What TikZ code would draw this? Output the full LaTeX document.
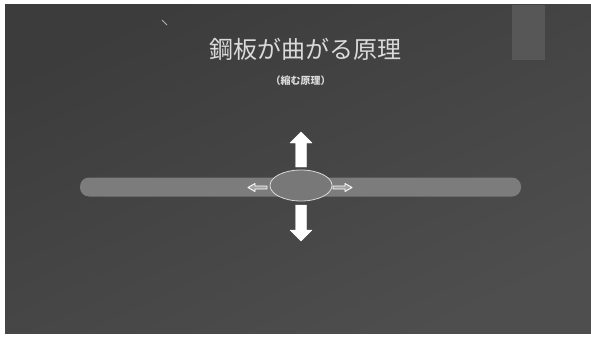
\documentclass[tikz,border=0pt]{standalone}
\usepackage{fontspec}
\newfontfamily\cjk{Noto Sans CJK JP}
\usetikzlibrary{shapes.geometric}
\definecolor{bgdark}{HTML}{3C3C3C}
\definecolor{bglight}{HTML}{4E4E4E}
\definecolor{tabgray}{HTML}{575757}
\definecolor{bargray}{HTML}{7C7C7C}
\definecolor{ellgray}{HTML}{787878}
\definecolor{titlegray}{HTML}{DADADA}
\tikzset{
  bigarrow/.style={fill=white, draw=white, line width=0.4pt, line join=round},
  smallarrow/.style={fill=bargray!70!white, draw=white, line width=0.9pt, line join=round},
}
\begin{document}
\begin{tikzpicture}[x=1pt,y=-1pt]
\useasboundingbox (0,0) rectangle (591,337);
\fill[white] (0,0) rectangle (591,337);
% slide background
\shade[shading=axis, top color=bgdark, bottom color=bglight, shading angle=25] (5,5) rectangle (591,333);
% top-right tab
\fill[tabgray] (512,5) rectangle (545,60);
% small stroke mark
\draw[gray!60, line width=0.8pt] (162,20) -- (167,25);
% title
\node[text=titlegray, font=\cjk\fontsize{24}{28}\selectfont, inner sep=0pt] (title) at (305,49) {鋼板が曲がる原理};
\node[text=titlegray, font=\cjk\bfseries\fontsize{10}{12}\selectfont, inner sep=0pt] (sub) at (300.5,81) {（縮む原理）};
% bar
\node[fill=bargray, rounded corners=9pt, minimum width=441pt, minimum height=19pt, inner sep=0pt] (bar) at (300.5,187) {};
% ellipse
\node[ellipse, fill=ellgray, draw=gray!30!white, line width=0.8pt, minimum width=62pt, minimum height=31pt, inner sep=0pt] (ell) at (301,185.5) {};
% big up arrow
\draw[bigarrow] (301,132) -- (312,143) -- (306.5,143) -- (306.5,167) -- (295.5,167) -- (295.5,143) -- (290,143) -- cycle;
% big down arrow
\draw[bigarrow] (301,241) -- (312,230) -- (306.5,230) -- (306.5,205) -- (295.5,205) -- (295.5,230) -- (290,230) -- cycle;
% small left arrow
\draw[smallarrow] (248,187.5) -- (255,183.5) -- (255,186) -- (267,186) -- (267,189) -- (255,189) -- (255,191.5) -- cycle;
% small right arrow
\draw[smallarrow] (352,187.5) -- (345,183.5) -- (345,186) -- (333,186) -- (333,189) -- (345,189) -- (345,191.5) -- cycle;
\end{tikzpicture}
\end{document}
